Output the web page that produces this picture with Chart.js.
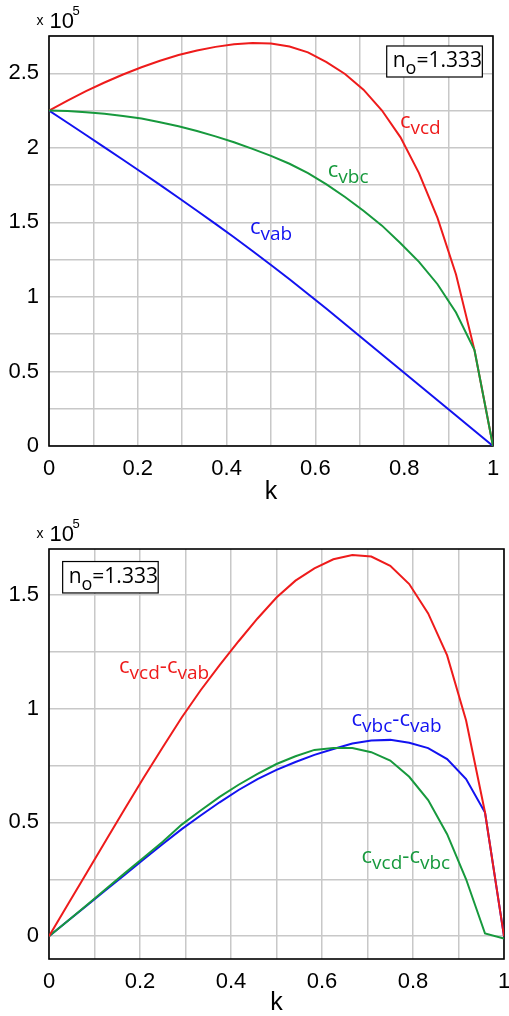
<!DOCTYPE html>
<html><head><meta charset="utf-8">
<script src="https://cdn.jsdelivr.net/npm/chart.js@4.4.1/dist/chart.umd.min.js"></script>
<style>
html,body{margin:0;padding:0;background:#fff;}
#wrap{position:relative;width:509px;height:1016px;overflow:hidden;background:#fff;}
canvas{position:absolute;left:0;}
#c1{top:0;}
#c2{top:505px;}
</style></head><body>
<div id="wrap"><canvas id="c1" width="509" height="505"></canvas><canvas id="c2" width="509" height="511"></canvas></div>
<script>
// ---- data (k = i/24) ----
const k = [0, 0.0417, 0.0833, 0.125, 0.1667, 0.2083, 0.25, 0.2917, 0.3333, 0.375, 0.4167, 0.4583, 0.5, 0.5417, 0.5833, 0.625, 0.6667, 0.7083, 0.75, 0.7917, 0.8333, 0.875, 0.9167, 0.9583, 1];
// top chart (x 10^5)
const cVcd = [2.25, 2.317, 2.38, 2.438, 2.492, 2.54, 2.584, 2.622, 2.653, 2.677, 2.694, 2.703, 2.70, 2.68, 2.64, 2.575, 2.495, 2.39, 2.25, 2.07, 1.83, 1.53, 1.15, 0.643, 0];
const cVbc = [2.25, 2.247, 2.239, 2.228, 2.213, 2.196, 2.172, 2.145, 2.113, 2.077, 2.037, 1.993, 1.946, 1.893, 1.83, 1.755, 1.67, 1.578, 1.478, 1.36, 1.235, 1.085, 0.895, 0.643, 0];
const cVab = [2.25, 2.168, 2.086, 2.003, 1.92, 1.836, 1.751, 1.665, 1.578, 1.49, 1.40, 1.308, 1.214, 1.118, 1.02, 0.92, 0.818, 0.716, 0.614, 0.511, 0.409, 0.307, 0.205, 0.102, 0];
// bottom chart (x 10^5)
const dVcdVab = [0, 0.14, 0.28, 0.42, 0.56, 0.697, 0.83, 0.96, 1.08, 1.19, 1.295, 1.395, 1.487, 1.561, 1.615, 1.655, 1.674, 1.667, 1.626, 1.546, 1.417, 1.233, 0.947, 0.543, 0];
const dVbcVab = [0, 0.068, 0.135, 0.203, 0.27, 0.338, 0.405, 0.47, 0.53, 0.588, 0.642, 0.69, 0.73, 0.765, 0.796, 0.822, 0.846, 0.859, 0.862, 0.849, 0.826, 0.778, 0.69, 0.543, 0];
const dVcdVbc = [0, 0.068, 0.137, 0.207, 0.277, 0.346, 0.415, 0.49, 0.552, 0.612, 0.665, 0.713, 0.756, 0.79, 0.818, 0.826, 0.826, 0.808, 0.771, 0.70, 0.598, 0.448, 0.25, 0.012, -0.01];
// ticks
const xTicks = [0, 0.1, 0.2, 0.3, 0.4, 0.5, 0.6, 0.7, 0.8, 0.9, 1];
const xTickLabels = ['0', '', '0.2', '', '0.4', '', '0.6', '', '0.8', '', '1'];
const yTicksTop = [0, 0.25, 0.5, 0.75, 1, 1.25, 1.5, 1.75, 2, 2.25, 2.5, 2.75];
const yTickLabelsTop = ['0', '', '0.5', '', '1', '', '1.5', '', '2', '', '2.5', ''];
const yTicksBottom = [0, 0.25, 0.5, 0.75, 1, 1.25, 1.5];
const yTickLabelsBottom = ['0', '', '0.5', '', '1', '', '1.5'];

const RED = '#ee1b1b', GREEN = '#17993d', BLUE = '#1212f0';
const AX_FONT = "'Liberation Sans', Arial, sans-serif";
const LB_FONT = "'Open Sans', 'Noto Sans', sans-serif";

function pts(ys){ return k.map((x,i)=>({x:x, y:ys[i]})); }

const deco = {
  id: 'deco',
  beforeDatasetsDraw(chart){
    const {ctx, chartArea:a} = chart;
    ctx.save();
    ctx.strokeStyle = '#000'; ctx.lineWidth = 1.6;
    ctx.strokeRect(a.left, a.top, a.right - a.left, a.bottom - a.top);
    ctx.restore();
  },
  afterDraw(chart, args, o){
    const {ctx, chartArea:a, scales} = chart;
    const X = v => scales.x.getPixelForValue(v), Y = v => scales.y.getPixelForValue(v);
    ctx.save();
    // x 10^5
    ctx.fillStyle = '#000'; ctx.textBaseline = 'alphabetic'; ctx.textAlign = 'left';
    ctx.font = '14px ' + AX_FONT; ctx.fillText('x', 36.5, a.top - 11);
    ctx.font = '22px ' + AX_FONT; ctx.fillText('10', 49.5, a.top - 8);
    ctx.font = '13px ' + AX_FONT; ctx.fillText('5', 72.5, a.top - 21.5);
    // n_o box
    const b = o.box;
    const bx = X(b.k0), by = Y(b.v0), bw = X(b.k1) - bx, bh = Y(b.v1) - by;
    ctx.fillStyle = '#fff'; ctx.fillRect(bx, by, bw, bh);
    ctx.strokeStyle = '#000'; ctx.lineWidth = 1.2; ctx.strokeRect(bx, by, bw, bh);
    ctx.fillStyle = '#000';
    drawParts(ctx, bx + 6, by + 21, [{t:'n'},{t:'o',sub:true},{t:'=1.333'}], 21, 18, 7);
    // curve labels
    for (const L of o.labels){
      ctx.fillStyle = L.color;
      drawParts(ctx, X(L.k), Y(L.v), L.parts, 22, 19, 6);
    }
    ctx.restore();
  }
};
function drawParts(ctx, x, y, parts, fm, fs, dy){
  let cx = x;
  for (const p of parts){
    ctx.font = (p.sub ? fs : fm) + 'px ' + LB_FONT;
    ctx.fillText(p.t, cx, p.sub ? y + dy : y);
    cx += ctx.measureText(p.t).width;
  }
}

function makeScales(yMin, yMax, yTicks, yLabels, xH){
  return {
    x: {
      type: 'linear', min: 0, max: 1,
      afterBuildTicks: s => { s.ticks = xTicks.map(v => ({value: v})); },
      afterFit: s => { s.height = xH; s.paddingLeft = 0; s.paddingRight = 0; },
      ticks: {autoSkip: false, maxRotation: 0, padding: 10, color: '#000',
        font: {family: AX_FONT, size: 22}, callback: (v, i) => xTickLabels[i]},
      grid: {color: '#c8c8c8', lineWidth: 1.5, drawTicks: false},
      border: {display: false},
      title: {display: true, text: 'k', color: '#000', font: {family: AX_FONT, size: 25, lineHeight: 1}, padding: {top: 0, bottom: 0}}
    },
    y: {
      type: 'linear', min: yMin, max: yMax,
      afterBuildTicks: s => { s.ticks = yTicks.map(v => ({value: v})); },
      afterFit: s => { s.width = 49; s.paddingTop = 0; s.paddingBottom = 0; },
      ticks: {autoSkip: false, padding: 10, color: '#000',
        font: {family: AX_FONT, size: 22}, callback: (v, i) => yLabels[i]},
      grid: {color: '#c8c8c8', lineWidth: 1.5, drawTicks: false},
      border: {display: false}
    }
  };
}
function ds(label, ys, color, order){
  return {label, data: pts(ys), borderColor: color, backgroundColor: color, borderWidth: 2, pointRadius: 0, tension: 0, fill: false, order};
}

new Chart(document.getElementById('c1'), {
  type: 'line',
  data: {datasets: [
    ds('c_vbc', cVbc, GREEN, 1),
    ds('c_vcd', cVcd, RED, 2),
    ds('c_vab', cVab, BLUE, 3)
  ]},
  options: {
    responsive: false, animation: false, devicePixelRatio: 1,
    layout: {padding: {top: 36, right: 16, left: 0, bottom: 0}},
    plugins: {legend: {display: false}, tooltip: {enabled: false},
      deco: {
        box: {k0: 0.7606, k1: 0.976, v0: 2.683, v1: 2.475},
        labels: [
          {k: 0.7905, v: 2.131, color: RED, parts: [{t:'c'},{t:'vcd',sub:true}]},
          {k: 0.628, v: 1.805, color: GREEN, parts: [{t:'c'},{t:'vbc',sub:true}]},
          {k: 0.4527, v: 1.421, color: BLUE, parts: [{t:'c'},{t:'vab',sub:true}]}
        ]
      }
    },
    scales: makeScales(0, 2.75, yTicksTop, yTickLabelsTop, 59)
  },
  plugins: [deco]
});

new Chart(document.getElementById('c2'), {
  type: 'line',
  data: {datasets: [
    ds('c_vcd-c_vab', dVcdVab, RED, 1),
    ds('c_vcd-c_vbc', dVcdVbc, GREEN, 2),
    ds('c_vbc-c_vab', dVbcVab, BLUE, 3)
  ]},
  options: {
    responsive: false, animation: false, devicePixelRatio: 1,
    layout: {padding: {top: 44, right: 5, left: 0, bottom: 0}},
    plugins: {legend: {display: false}, tooltip: {enabled: false},
      deco: {
        box: {k0: 0.030, k1: 0.240, v0: 1.645, v1: 1.507},
        labels: [
          {k: 0.154, v: 1.156, color: RED, parts: [{t:'c'},{t:'vcd',sub:true},{t:'-c'},{t:'vab',sub:true}]},
          {k: 0.665, v: 0.921, color: BLUE, parts: [{t:'c'},{t:'vbc',sub:true},{t:'-c'},{t:'vab',sub:true}]},
          {k: 0.687, v: 0.323, color: GREEN, parts: [{t:'c'},{t:'vcd',sub:true},{t:'-c'},{t:'vbc',sub:true}]}
        ]
      }
    },
    scales: makeScales(-0.1, 1.7, yTicksBottom, yTickLabelsBottom, 57)
  },
  plugins: [deco]
});
</script>
</body></html>
